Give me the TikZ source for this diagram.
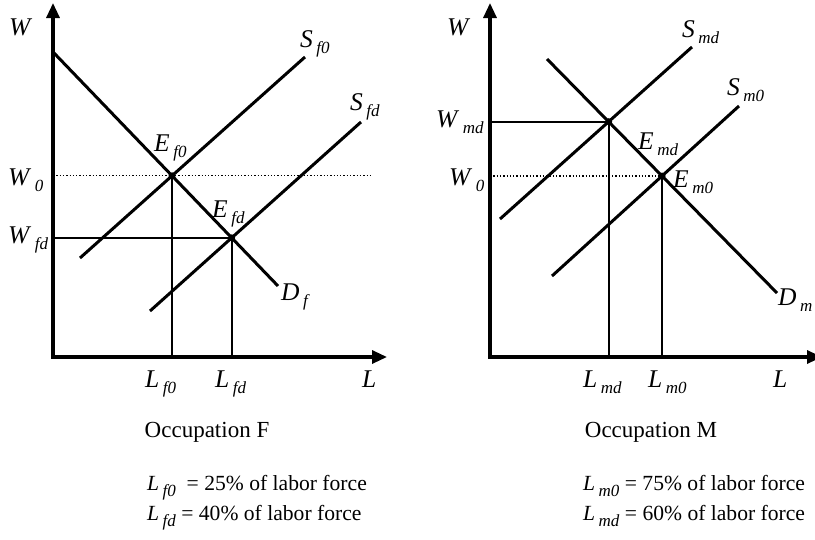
\documentclass[tikz,border=0pt]{standalone}
\usepackage{fontspec}
\setmainfont{Liberation Serif}
\usetikzlibrary{arrows.meta}
\newcommand{\lbl}[2]{\textit{#1}\hspace{3.5pt}\raisebox{-6pt}{\fontsize{17}{17}\selectfont\textit{#2}}}

\begin{document}
\begin{tikzpicture}[x=1pt, y=-1pt,
  axis/.style={line width=3.2pt, line join=miter,
    {Triangle[length=15pt,width=13pt]}-{Triangle[length=15pt,width=13pt]}},
  curve/.style={line width=3pt},
  guide/.style={line width=1.6pt},
  level/.style={line width=1.3pt, dotted},
  lab/.style={anchor=base west, inner sep=0pt, font=\fontsize{25.5}{29}\selectfont},
  note/.style={anchor=base west, inner sep=0pt, font=\fontsize{21.6}{26}\selectfont},
  title/.style={anchor=base, inner sep=0pt, font=\fontsize{23}{26}\selectfont},
  eq/.style={circle, fill, inner sep=0pt, minimum size=7pt}
]
\useasboundingbox (0,0) rectangle (815,539);

% occupation F
\coordinate (OF) at (53,357);
\coordinate (YF) at (53,3);
\coordinate (XF) at (387,357);
\coordinate (DfA) at (54,53);
\coordinate (DfB) at (278,286);
\coordinate (Sf0A) at (80,258);
\coordinate (Sf0B) at (305,57);
\coordinate (SfdA) at (150,311);
\coordinate (SfdB) at (361,122);
\coordinate (Ef0) at (intersection of DfA--DfB and Sf0A--Sf0B);
\coordinate (Efd) at (intersection of DfA--DfB and SfdA--SfdB);
\coordinate (dotF) at (372,0);

\draw[level] (Ef0 -| OF) -- (Ef0 -| dotF);
\draw[guide] (Efd) -- (Efd -| OF);
\draw[guide] (Ef0) -- (Ef0 |- OF);
\draw[guide] (Efd) -- (Efd |- OF);
\draw[curve] (DfA) -- (DfB);
\draw[curve] (Sf0A) -- (Sf0B);
\draw[curve] (SfdA) -- (SfdB);
\draw[axis] (YF) -- (OF) -- (XF);
\node[eq] (dotEf0) at (Ef0) {};
\node[eq] (dotEfd) at (Efd) {};

\node[lab] (lWF) at (9,35) {\textit{W}};
\node[lab] (lSf0) at (300,47) {\lbl{S}{f0}};
\node[lab] (lSfd) at (350,110) {\lbl{S}{fd}};
\node[lab] (lEf0) at (154,151) {\lbl{E}{f0}};
\node[lab] (lEfd) at (212,217) {\lbl{E}{fd}};
\node[lab] (lDf) at (281,300) {\lbl{D}{f}};
\node[lab] (lW0F) at (8,185) {\lbl{W}{0}};
\node[lab] (lWfd) at (8,243) {\lbl{W}{fd}};
\node[lab] (lLf0) at (145,387) {\lbl{L}{f0}};
\node[lab] (lLfd) at (215,387) {\lbl{L}{fd}};
\node[lab] (lLF) at (362,387) {\textit{L}};
\node[title] (occF) at (207,437) {Occupation F};
\node[note] (shareFa) at (147,490) {\lbl{L}{f0}\ \ = 25\% of labor force};
\node[note] (shareFb) at (147,520) {\lbl{L}{fd} = 40\% of labor force};

% occupation M
\coordinate (OM) at (490,357);
\coordinate (YM) at (490,3);
\coordinate (XM) at (822,357);
\coordinate (DmA) at (547,59);
\coordinate (DmB) at (777,293);
\coordinate (SmdA) at (500,219);
\coordinate (SmdB) at (692,47);
\coordinate (Sm0A) at (552,276);
\coordinate (Sm0B) at (739,106);
\coordinate (Emd) at (intersection of DmA--DmB and SmdA--SmdB);
\coordinate (Em0) at (intersection of DmA--DmB and Sm0A--Sm0B);

\draw[level] (Em0 -| OM) -- (Em0);
\draw[guide] (Emd) -- (Emd -| OM);
\draw[guide] (Emd) -- (Emd |- OM);
\draw[guide] (Em0) -- (Em0 |- OM);
\draw[curve] (DmA) -- (DmB);
\draw[curve] (SmdA) -- (SmdB);
\draw[curve] (Sm0A) -- (Sm0B);
\draw[axis] (YM) -- (OM) -- (XM);
\node[eq] (dotEmd) at (Emd) {};
\node[eq] (dotEm0) at (Em0) {};

\node[lab] (lWM) at (447,35) {\textit{W}};
\node[lab] (lSmd) at (682,37) {\lbl{S}{md}};
\node[lab] (lSm0) at (727,95) {\lbl{S}{m0}};
\node[lab] (lWmd) at (436,127) {\lbl{W}{md}};
\node[lab] (lW0M) at (449,185) {\lbl{W}{0}};
\node[lab] (lEmd) at (638,149) {\lbl{E}{md}};
\node[lab] (lEm0) at (673,187) {\lbl{E}{m0}};
\node[lab] (lDm) at (778,305) {\lbl{D}{m}};
\node[lab] (lLmd) at (583,387) {\lbl{L}{md}};
\node[lab] (lLm0) at (648,387) {\lbl{L}{m0}};
\node[lab] (lLM) at (773,387) {\textit{L}};
\node[title] (occM) at (651,437) {Occupation M};
\node[note] (shareMa) at (583,490) {\lbl{L}{m0}\ = 75\% of labor force};
\node[note] (shareMb) at (583,520) {\lbl{L}{md} = 60\% of labor force};
\end{tikzpicture}
\end{document}
